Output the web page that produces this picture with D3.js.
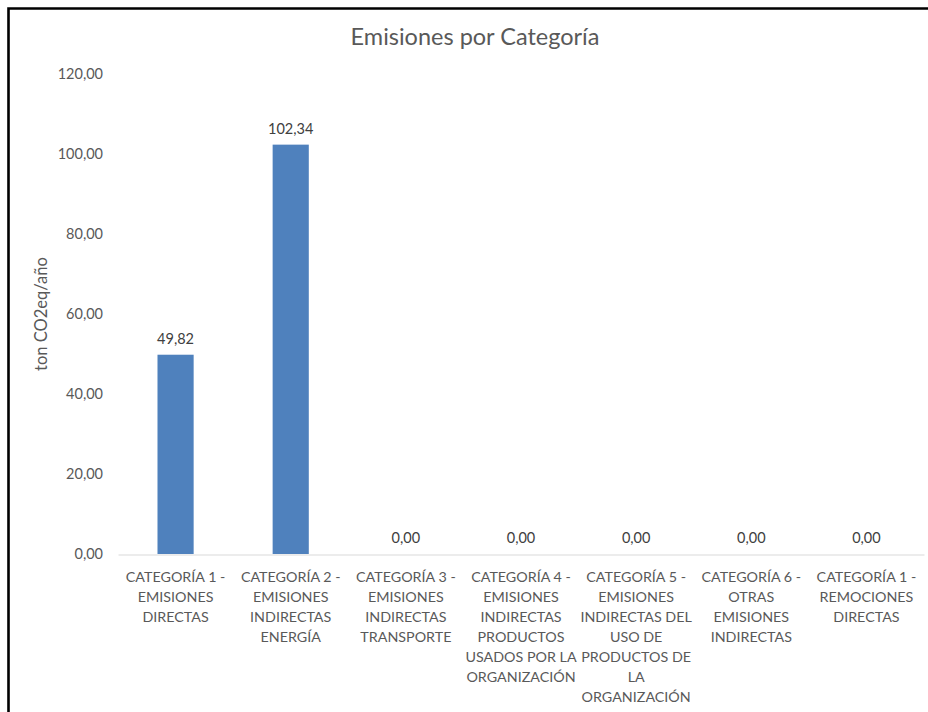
<!DOCTYPE html>
<html>
<head>
<meta charset="utf-8">
<script src="https://cdn.jsdelivr.net/npm/d3@7"></script>
<style>
  html, body { margin: 0; padding: 0; background: #fff; }
  svg { display: block; }
  text { font-family: Lato, "Open Sans", "Liberation Sans", sans-serif; }
</style>
</head>
<body>
<svg id="chart" width="928" height="712"></svg>
<script>
const title = "Emisiones por Categoría";
const yAxisTitle = "ton CO2eq/año";
const categories = [
  ["CATEGORÍA 1 -", "EMISIONES", "DIRECTAS"],
  ["CATEGORÍA 2 -", "EMISIONES", "INDIRECTAS", "ENERGÍA"],
  ["CATEGORÍA 3 -", "EMISIONES", "INDIRECTAS", "TRANSPORTE"],
  ["CATEGORÍA 4 -", "EMISIONES", "INDIRECTAS", "PRODUCTOS", "USADOS POR LA", "ORGANIZACIÓN"],
  ["CATEGORÍA 5 -", "EMISIONES", "INDIRECTAS DEL", "USO DE", "PRODUCTOS DE", "LA", "ORGANIZACIÓN"],
  ["CATEGORÍA 6 -", "OTRAS", "EMISIONES", "INDIRECTAS"],
  ["CATEGORÍA 1 -", "REMOCIONES", "DIRECTAS"]
];
const values = [49.82, 102.34, 0, 0, 0, 0, 0];
const yTicks = [0, 20, 40, 60, 80, 100, 120];

const fmt = v => v.toFixed(2).replace(".", ",");
const svg = d3.select("#chart");
const plotLeft = 118, plotRight = 924, plotTop = 74, plotBottom = 554;

// frame
svg.append("path")
  .attr("d", "M8.5,720 L8.5,8.5 L940,8.5")
  .attr("fill", "none").attr("stroke", "#000").attr("stroke-width", 2.6);

const x = d3.scaleBand().domain(d3.range(categories.length)).range([plotLeft, plotRight]).paddingInner(0.686).paddingOuter(0.343);
const y = d3.scaleLinear().domain([0, 120]).range([plotBottom, plotTop]);

svg.append("text").attr("x", 475).attr("y", 45).attr("text-anchor", "middle")
  .attr("font-size", 23.5).attr("fill", "#595959").text(title);

// y axis
const yAxis = d3.axisLeft(y).tickValues(yTicks).tickFormat(fmt).tickSize(0).tickPadding(0);
const yg = svg.append("g").attr("transform", `translate(103,0)`).call(yAxis);
yg.select(".domain").remove();
yg.attr("font-family", null).attr("font-size", null);
yg.selectAll("text").attr("font-size", 14.5).attr("fill", "#595959");

svg.append("text").attr("transform", "translate(47,314) rotate(-90)").attr("text-anchor", "middle")
  .attr("font-size", 16.5).attr("fill", "#595959").text(yAxisTitle);

// bars
svg.append("g").selectAll("rect").data(values).join("rect")
  .attr("x", (d, i) => x(i)).attr("width", x.bandwidth())
  .attr("y", d => y(d)).attr("height", d => y(0) - y(d))
  .attr("fill", "#4F81BD");

// baseline
const xAxis = d3.axisBottom(x).tickSize(0).tickFormat("");
const xg = svg.append("g").attr("transform", `translate(0,${plotBottom + 0.5})`).call(xAxis);
xg.select(".domain").attr("stroke", "#D9D9D9").attr("stroke-width", 1);

// value labels
svg.append("g").selectAll("text").data(values).join("text")
  .attr("x", (d, i) => x(i) + x.bandwidth() / 2).attr("y", d => y(d) - 11)
  .attr("text-anchor", "middle").attr("font-size", 14.5).attr("fill", "#404040")
  .text(fmt);

// category labels
const cg = svg.append("g");
categories.forEach((lines, i) => {
  const t = cg.append("text").attr("text-anchor", "middle").attr("font-size", 14.3).attr("fill", "#595959");
  lines.forEach((ln, j) => {
    t.append("tspan").attr("x", x(i) + x.bandwidth() / 2).attr("y", 582 + j * 20).text(ln);
  });
});
</script>
</body>
</html>
